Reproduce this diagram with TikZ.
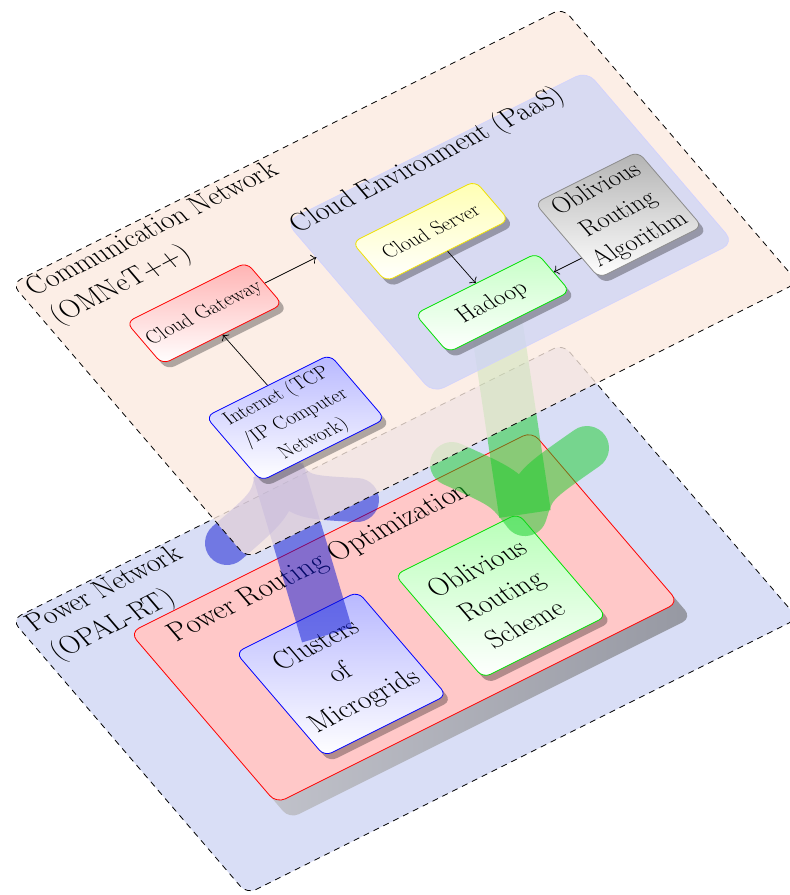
\documentclass[tikz,border=0pt]{standalone}
\usepackage{fontspec}
\usetikzlibrary{arrows.meta}
\definecolor{commbg}{RGB}{251,233,223}
\definecolor{powbg}{RGB}{217,222,246}
\definecolor{envbg}{RGB}{207,213,245}
\definecolor{probg}{RGB}{255,200,200}
\definecolor{bigblue}{RGB}{10,20,210}
\definecolor{biggreen}{RGB}{20,205,40}
\definecolor{srvyellow}{RGB}{240,225,0}
\definecolor{hdgreen}{RGB}{0,225,0}
\definecolor{shadeL}{RGB}{205,206,214}
\definecolor{shadeR}{RGB}{150,152,162}
\tikzset{
  plane/.style={transform shape, rectangle, draw=black, dash pattern=on 6pt off 5pt, line width=0.8pt, rounded corners=10pt, inner sep=0pt, minimum width=551pt, minimum height=392pt},
  txt/.style={transform shape, yscale=1.25},
  bigtxt/.style={font=\fontsize{24.5}{32}\selectfont},
  smalltxt/.style={font=\fontsize{17.5}{24.5}\selectfont},
  box/.style={txt, rectangle, rounded corners=8pt, line width=0.8pt, align=center, inner sep=0pt},
  shadowfill/.style={fill=black, opacity=0.3},
  conn/.style={-{Computer Modern Rightarrow[scale=1.5]}, line width=0.7pt},
  fatshaft/.style={line width=52pt, opacity=0.5},
  fathead/.style={line width=44pt, opacity=0.5, line cap=round, line join=round},
}
\newcommand\mkbox[8]{%
  \fill[shadowfill, rounded corners=8pt] ({#2-#4/2},{#3-#5/2-#6}) rectangle ({#2+#4/2},{#3+#5/2-#6});
  \node[box,#7,minimum width=#4pt,minimum height={#5pt/1.25}] (#1) at (#2,#3) {#8};
}
\begin{document}
\begin{tikzpicture}[x=1pt,y=1pt]
\useasboundingbox (0,0) rectangle (790,-895);
% power layer
\begin{scope}[cm={1,0.5,-0.6,0.7,(247,-894)}]
  \node[plane, fill=powbg] (powerplane) at (275.5,196) {};
  \node[txt, bigtxt, anchor=north west, align=left, inner sep=0pt] (powtitle) at (8,389) {Power Network\\(OPAL-RT)};
  \shade[left color=shadeL, right color=shadeR, rounded corners=10pt] (75,54) rectangle (477,298);
  \node[transform shape, rectangle, fill=probg, draw=red, line width=0.8pt, minimum width=402pt, minimum height=244pt, rounded corners=10pt, inner sep=0pt] (pro) at (276,198) {};
  \node[txt, font=\fontsize{25.5}{32}\selectfont, anchor=base west, inner sep=0pt] (protitle) at (102,287) {Power Routing Optimization};
  \mkbox{clusters}{198}{173}{122}{148}{8}{draw=blue, top color=blue!28, bottom color=white, bigtxt}{Clusters\\of\\Microgrids}
  \mkbox{ors}{356.5}{171.5}{123}{147}{8}{draw=hdgreen, top color=green!28, bottom color=white, bigtxt}{Oblivious\\Routing\\Scheme}
\end{scope}
% big arrows (canvas coordinates)
\coordinate (bluefrom) at (327,-635);
\coordinate (bluetip) at (278,-470);
\coordinate (blueL) at (227,-543);
\coordinate (blueR) at (357,-500);
\coordinate (greenfrom) at (494,-306);
\coordinate (greentip) at (525,-514);
\coordinate (greenL) at (452,-464);
\coordinate (greenR) at (587,-448);
\draw[fatshaft, draw=bigblue] (bluefrom) -- (bluetip);
\draw[fathead, draw=bigblue] (blueL) .. controls (272,-504) .. (bluetip) .. controls (300,-497) .. (blueR);
\draw[fatshaft, draw=biggreen] (greenfrom) -- (greentip);
\draw[fathead, draw=biggreen] (greenL) .. controls (505,-488) .. (greentip) .. controls (534,-485) .. (greenR);
% communication layer
\begin{scope}[cm={1,0.5,-0.6,0.7,(247,-558)}]
  \node[plane, fill=commbg, fill opacity=0.78, draw opacity=1] (commplane) at (275.5,196) {};
  \node[txt, bigtxt, anchor=north west, align=left, inner sep=0pt] (commtitle) at (8,389) {Communication Network\\(OMNeT++)};
  \node[transform shape, rectangle, fill=envbg, fill opacity=0.8, draw=blue!18, line width=0.6pt, minimum width=301pt, minimum height=245pt, rounded corners=12pt, inner sep=0pt] (cloudenv) at (379.5,194.5) {};
  \node[txt, bigtxt, anchor=base west, inner sep=0pt] (envtitle) at (231,299) {Cloud Environment (PaaS)};
  \mkbox{gateway}{117}{266}{120}{60}{8}{draw=red, top color=red!30, bottom color=white, font=\fontsize{18}{24}\selectfont}{Cloud Gateway}
  \mkbox{internet}{118}{116}{124}{92}{8}{draw=blue, top color=blue!28, bottom color=white, smalltxt}{Internet (TCP\\/IP Computer\\Network)}
  \mkbox{server}{324.5}{235}{123}{56}{8}{draw=srvyellow, top color=yellow!30, bottom color=white, font=\fontsize{18}{24}\selectfont}{Cloud Server}
  \mkbox{hadoop}{325}{132.5}{122}{55}{8}{draw=hdgreen, top color=green!22, bottom color=white, font=\fontsize{21}{26}\selectfont}{Hadoop}
  \mkbox{ora}{466}{157.5}{103}{107}{8}{draw=black!45, top color=black!30, bottom color=white, font=\fontsize{22}{29}\selectfont}{Oblivious\\Routing\\Algorithm}
  \coordinate (envin) at (229,266);
  \coordinate (oraout) at (414,132.5);
  \draw[conn] (internet.north) -- (gateway.south);
  \draw[conn] (gateway.east) -- (envin);
  \draw[conn] (server.south) -- (hadoop.north);
  \draw[conn] (oraout) -- (hadoop.east);
\end{scope}
\end{tikzpicture}
\end{document}
